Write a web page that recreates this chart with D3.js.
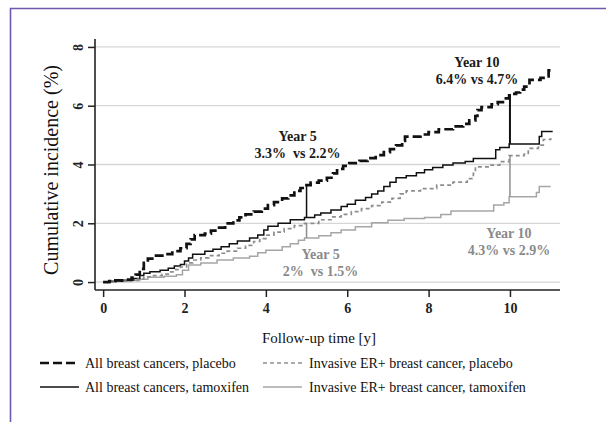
<!DOCTYPE html>
<html>
<head>
<meta charset="utf-8">
<script src="https://cdn.jsdelivr.net/npm/d3@7"></script>
<style>
  body { margin: 0; background: #fff; }
  svg text { font-family: "Liberation Serif", "Times New Roman", serif; }
</style>
</head>
<body>
<svg id="chart" width="606" height="422"></svg>
<script>
// step data: [years, cumulative %]
var allPlacebo = [[0,0],[0.15,0.03],[0.3,0.06],[0.55,0.08],[0.7,0.15],[0.8,0.25],[0.9,0.45],[1.0,0.65],[1.1,0.8],[1.3,0.9],[1.5,0.95],[1.7,1.05],[1.9,1.15],[2.05,1.3],[2.15,1.45],[2.25,1.6],[2.5,1.65],[2.65,1.75],[2.85,1.85],[3.0,2.0],[3.2,2.1],[3.35,2.2],[3.5,2.3],[3.7,2.4],[3.9,2.5],[4.05,2.62],[4.2,2.72],[4.4,2.85],[4.55,2.95],[4.7,3.1],[4.85,3.2],[4.95,3.3],[5.1,3.38],[5.3,3.45],[5.5,3.55],[5.65,3.7],[5.75,3.85],[5.9,3.95],[6.05,4.05],[6.3,4.12],[6.5,4.22],[6.7,4.32],[6.9,4.42],[7.05,4.52],[7.2,4.65],[7.35,4.8],[7.42,4.95],[7.8,5.02],[8.0,5.1],[8.25,5.2],[8.6,5.3],[8.85,5.38],[9.0,5.5],[9.15,5.65],[9.2,5.85],[9.3,5.95],[9.55,6.05],[9.7,6.12],[9.9,6.25],[9.98,6.4],[10.15,6.45],[10.25,6.55],[10.35,6.65],[10.48,6.88],[10.75,6.95],[10.9,7.0],[10.95,7.2],[11.05,7.2]];
var allTamox = [[0,0],[0.2,0.03],[0.5,0.06],[0.75,0.12],[0.9,0.22],[1.0,0.3],[1.15,0.35],[1.4,0.4],[1.6,0.47],[1.75,0.55],[1.9,0.6],[2.0,0.72],[2.1,0.82],[2.2,0.95],[2.5,1.05],[2.7,1.12],[2.9,1.2],[3.1,1.3],[3.3,1.4],[3.6,1.5],[3.8,1.6],[3.95,1.77],[4.05,1.9],[4.3,2.0],[4.6,2.12],[4.95,2.2],[5.2,2.28],[5.35,2.35],[5.6,2.45],[5.85,2.57],[6.0,2.65],[6.2,2.78],[6.45,2.88],[6.6,3.0],[6.75,3.1],[6.9,3.25],[7.05,3.4],[7.2,3.55],[7.45,3.62],[7.7,3.72],[7.9,3.82],[8.1,3.9],[8.35,3.98],[8.6,4.05],[8.9,4.1],[9.1,4.2],[9.65,4.5],[9.75,4.58],[9.98,4.7],[10.72,4.95],[10.78,5.12],[11.05,5.12]];
var erPlacebo = [[0,0],[0.3,0.03],[0.6,0.06],[0.85,0.1],[1.0,0.18],[1.2,0.22],[1.45,0.27],[1.6,0.35],[1.75,0.42],[1.9,0.52],[2.05,0.65],[2.2,0.75],[2.4,0.82],[2.6,0.9],[2.85,0.98],[3.05,1.05],[3.3,1.15],[3.5,1.25],[3.7,1.38],[3.85,1.48],[4.0,1.6],[4.2,1.7],[4.45,1.82],[4.7,1.92],[4.95,2.0],[5.3,2.12],[5.6,2.22],[5.85,2.3],[6.1,2.4],[6.35,2.5],[6.6,2.6],[6.85,2.72],[7.1,2.85],[7.3,3.0],[7.45,3.1],[7.8,3.18],[8.2,3.3],[8.6,3.4],[8.95,3.52],[9.1,3.7],[9.15,3.92],[9.5,3.98],[9.75,4.1],[9.98,4.3],[10.35,4.35],[10.45,4.55],[10.7,4.66],[10.82,4.85],[11.0,4.9]];
var erTamox = [[0,0],[0.3,0.02],[0.7,0.05],[0.9,0.1],[1.1,0.16],[1.5,0.2],[1.8,0.25],[1.95,0.4],[2.1,0.58],[2.4,0.65],[2.8,0.75],[3.2,0.82],[3.6,0.88],[3.8,1.0],[4.0,1.08],[4.4,1.2],[4.6,1.3],[4.8,1.42],[4.95,1.5],[5.3,1.58],[5.6,1.68],[5.85,1.77],[6.2,1.88],[6.6,2.02],[7.0,2.1],[7.4,2.16],[7.9,2.2],[8.3,2.3],[8.55,2.42],[9.6,2.62],[9.85,2.7],[9.98,2.9],[10.65,3.05],[10.72,3.25],[11.0,3.25]];

var xTicks = [0, 2, 4, 6, 8, 10];
var yTicks = [0, 2, 4, 6, 8];

var markYears = [5, 10];
var markAll = [[3.3, 2.2], [6.4, 4.7]];
var markEr = [[2.0, 1.5], [4.3, 2.9]];
var markAllText = ["3.3%\u00a0 vs 2.2%", "6.4% vs 4.7%"];
var markErText = ["2%\u00a0 vs 1.5%", "4.3% vs 2.9%"];

var legendNames = ["All breast cancers, placebo", "Invasive ER+ breast cancer, placebo",
                   "All breast cancers, tamoxifen", "Invasive ER+ breast cancer, tamoxifen"];

var series = [
  { data: allPlacebo, color: "#111", width: 2.7, dash: "9,4" },
  { data: erPlacebo, color: "#8e8e8e", width: 1.7, dash: "4,3" },
  { data: allTamox, color: "#111", width: 1.5, dash: null },
  { data: erTamox, color: "#a6a6a6", width: 1.5, dash: null }
];

var svg = d3.select("#chart");

// frame
svg.append("path")
  .attr("d", "M10.5,422V8.5H606")
  .attr("fill", "none")
  .attr("stroke", "#6e58b0")
  .attr("stroke-width", 1.6);

var x = d3.scaleLinear().domain([-0.2, 11.23]).range([95, 560]);
var y = d3.scaleLinear().domain([-0.27, 8.27]).range([290, 39]);

// gridlines
svg.append("g")
  .selectAll("line")
  .data(yTicks)
  .enter()
  .append("line")
  .attr("x1", x(-0.2)).attr("x2", x(11.23))
  .attr("y1", function (d) { return y(d); })
  .attr("y2", function (d) { return y(d); })
  .attr("stroke", "#d6d6d6")
  .attr("stroke-width", 1.3);

// axes
var xAxis = svg.append("g")
  .attr("transform", "translate(0," + y(-0.27) + ")")
  .call(d3.axisBottom(x).tickValues(xTicks).tickSize(7).tickPadding(6).tickFormat(d3.format("d")));
var yAxis = svg.append("g")
  .attr("transform", "translate(" + x(-0.2) + ",0)")
  .call(d3.axisLeft(y).tickValues(yTicks).tickSize(7).tickFormat(d3.format("d")));

[xAxis, yAxis].forEach(function (a) {
  a.select(".domain").attr("stroke", "#222").attr("stroke-width", 1.6);
  a.selectAll(".tick line").attr("stroke", "#222").attr("stroke-width", 1.5);
  a.selectAll(".tick text")
    .attr("fill", "#222")
    .attr("font-size", "14px")
    .attr("font-weight", "bold")
    .attr("font-family", "Liberation Serif, serif");
});
xAxis.select(".domain").attr("d", "M" + x(-0.2) + ",0H" + x(11.23));
yAxis.select(".domain").attr("d", "M0," + y(-0.27) + "V" + y(8.27));

yAxis.selectAll(".tick text")
  .attr("x", null).attr("dy", null)
  .attr("text-anchor", "middle")
  .attr("transform", "translate(-12,0) rotate(-90)");

// axis titles
svg.append("text")
  .attr("transform", "translate(58,170) rotate(-90)")
  .attr("text-anchor", "middle")
  .attr("font-size", "20px")
  .attr("fill", "#111")
  .text("Cumulative incidence (%)");

svg.append("text")
  .attr("x", 319).attr("y", 343)
  .attr("text-anchor", "middle")
  .attr("font-size", "15px")
  .attr("fill", "#111")
  .text("Follow-up time [y]");

// curves
var line = d3.line()
  .curve(d3.curveStepAfter)
  .x(function (d) { return x(d[0]); })
  .y(function (d) { return y(d[1]); });

svg.append("g")
  .selectAll("path")
  .data(series.slice().reverse())
  .enter()
  .append("path")
  .attr("d", function (d) { return line(d.data); })
  .attr("fill", "none")
  .attr("stroke", function (d) { return d.color; })
  .attr("stroke-width", function (d) { return d.width; })
  .attr("stroke-dasharray", function (d) { return d.dash; });

// year markers
markYears.forEach(function (yr, i) {
  svg.append("line")
    .attr("x1", x(yr)).attr("x2", x(yr))
    .attr("y1", y(markEr[i][0])).attr("y2", y(markEr[i][1]))
    .attr("stroke", "#8e8e8e").attr("stroke-width", 1.5);
  svg.append("line")
    .attr("x1", x(yr)).attr("x2", x(yr))
    .attr("y1", y(markAll[i][0])).attr("y2", y(markAll[i][1]))
    .attr("stroke", "#111").attr("stroke-width", i == 0 ? 1.5 : 2);
});

function label(cx, by, txt, color) {
  var t = svg.append("text")
    .attr("text-anchor", "middle")
    .attr("font-size", "14px")
    .attr("font-weight", "bold")
    .attr("fill", color);
  t.append("tspan").attr("x", cx).attr("y", by).text(txt[0]);
  t.append("tspan").attr("x", cx).attr("y", by + 17).text(txt[1]);
}

label(x(5) - 9, y(markAll[0][0]) - 44, ["Year 5", markAllText[0]], "#1a1a1a");
label(x(5) + 14, y(markEr[0][1]) + 21, ["Year 5", markErText[0]], "#8a8a8a");
label(x(10) - 33, y(markAll[1][0]) - 27, ["Year 10", markAllText[1]], "#1a1a1a");
label(x(10) - 1, y(markEr[1][1]) + 41, ["Year 10", markErText[1]], "#8a8a8a");

// legend
var legendOrder = [0, 1, 2, 3];
var leg = svg.append("g")
  .selectAll("g")
  .data(legendOrder)
  .enter()
  .append("g")
  .attr("transform", function (d) {
    return "translate(" + (d % 2 == 0 ? 40 : 263) + "," + (d < 2 ? 363 : 387) + ")";
  });

leg.append("line")
  .attr("x1", 0).attr("x2", 39)
  .attr("stroke", function (d) { return series[d].color; })
  .attr("stroke-width", function (d) { return series[d].width; })
  .attr("stroke-dasharray", function (d) { return series[d].dash; });

leg.append("text")
  .attr("x", function (d) { return d % 2 == 0 ? 45 : 46; })
  .attr("y", 4.5)
  .attr("font-size", "14px")
  .attr("fill", "#111")
  .text(function (d) { return legendNames[d]; });
</script>
</body>
</html>
